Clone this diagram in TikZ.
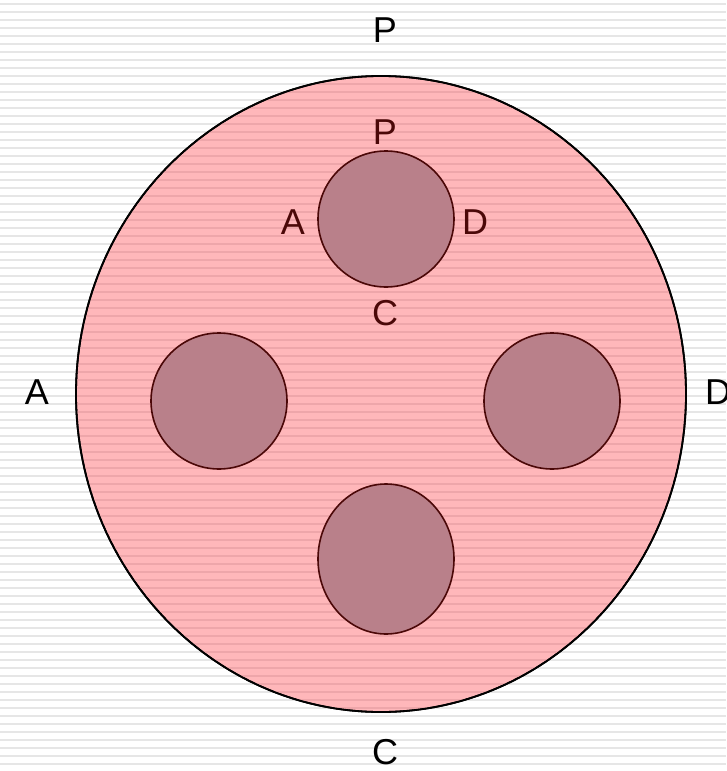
\documentclass[tikz,border=0pt]{standalone}
\usepackage{fontspec}
\setmainfont{Liberation Sans}
\usetikzlibrary{positioning}

\definecolor{bigpink}{RGB}{255,183,186}
\definecolor{pinkline}{RGB}{238,166,170}
\definecolor{mauve}{RGB}{185,128,138}
\definecolor{darkred}{RGB}{75,8,8}
\definecolor{stripegray}{RGB}{230,230,230}

\begin{document}
\begin{tikzpicture}[
    x=1pt, y=-1pt, % pixel-like units, y downwards
    stripe/.style={stripegray, line width=2.2pt},
    pinkstripe/.style={pinkline, line width=2.2pt},
    outer_disc/.style={fill=bigpink, draw=black, line width=1.8pt},
    inner_disc/.style={fill=mauve, draw=darkred, line width=1.6pt},
    outer_label/.style={black, font=\fontsize{36}{40}\selectfont, inner sep=0pt},
    inner_label/.style={darkred, font=\fontsize{36}{40}\selectfont, inner sep=0pt}
]

% Background
\fill[white] (0,0) rectangle (726,771);
\useasboundingbox (0,0) rectangle (726,771);
\foreach \y in {4,12,...,771}
    \draw[stripe] (0,\y) -- (726,\y);

% Big disc
\def\cx{381}
\def\cy{394}
\draw[outer_disc] (\cx,\cy) ellipse [x radius=305, y radius=318];
\begin{scope}
    \clip (\cx,\cy) ellipse [x radius=304, y radius=317];
    \foreach \y in {4,12,...,771}
        \draw[pinkstripe] (0,\y) -- (726,\y);
\end{scope}
\draw[black, line width=1.8pt] (\cx,\cy) ellipse [x radius=305, y radius=318];

% Small discs
\draw[inner_disc] (386,219) ellipse [x radius=68, y radius=68]; % top
\draw[inner_disc] (219,401) ellipse [x radius=68, y radius=68]; % left
\draw[inner_disc] (552,401) ellipse [x radius=68, y radius=68]; % right
\draw[inner_disc] (386,559) ellipse [x radius=68, y radius=75]; % bottom

% Outer labels
\node[outer_label] (outerP) at (385,30) {P};
\node[outer_label] (outerA) at (37,392) {A};
\node[outer_label] (outerD) at (718,392) {D};
\node[outer_label] (outerC) at (385,752) {C};

% Inner labels
\node[inner_label] (innerP) at (385,132) {P};
\node[inner_label] (innerA) at (293,222) {A};
\node[inner_label] (innerD) at (475,222) {D};
\node[inner_label] (innerC) at (385,313) {C};

\end{tikzpicture}
\end{document}
